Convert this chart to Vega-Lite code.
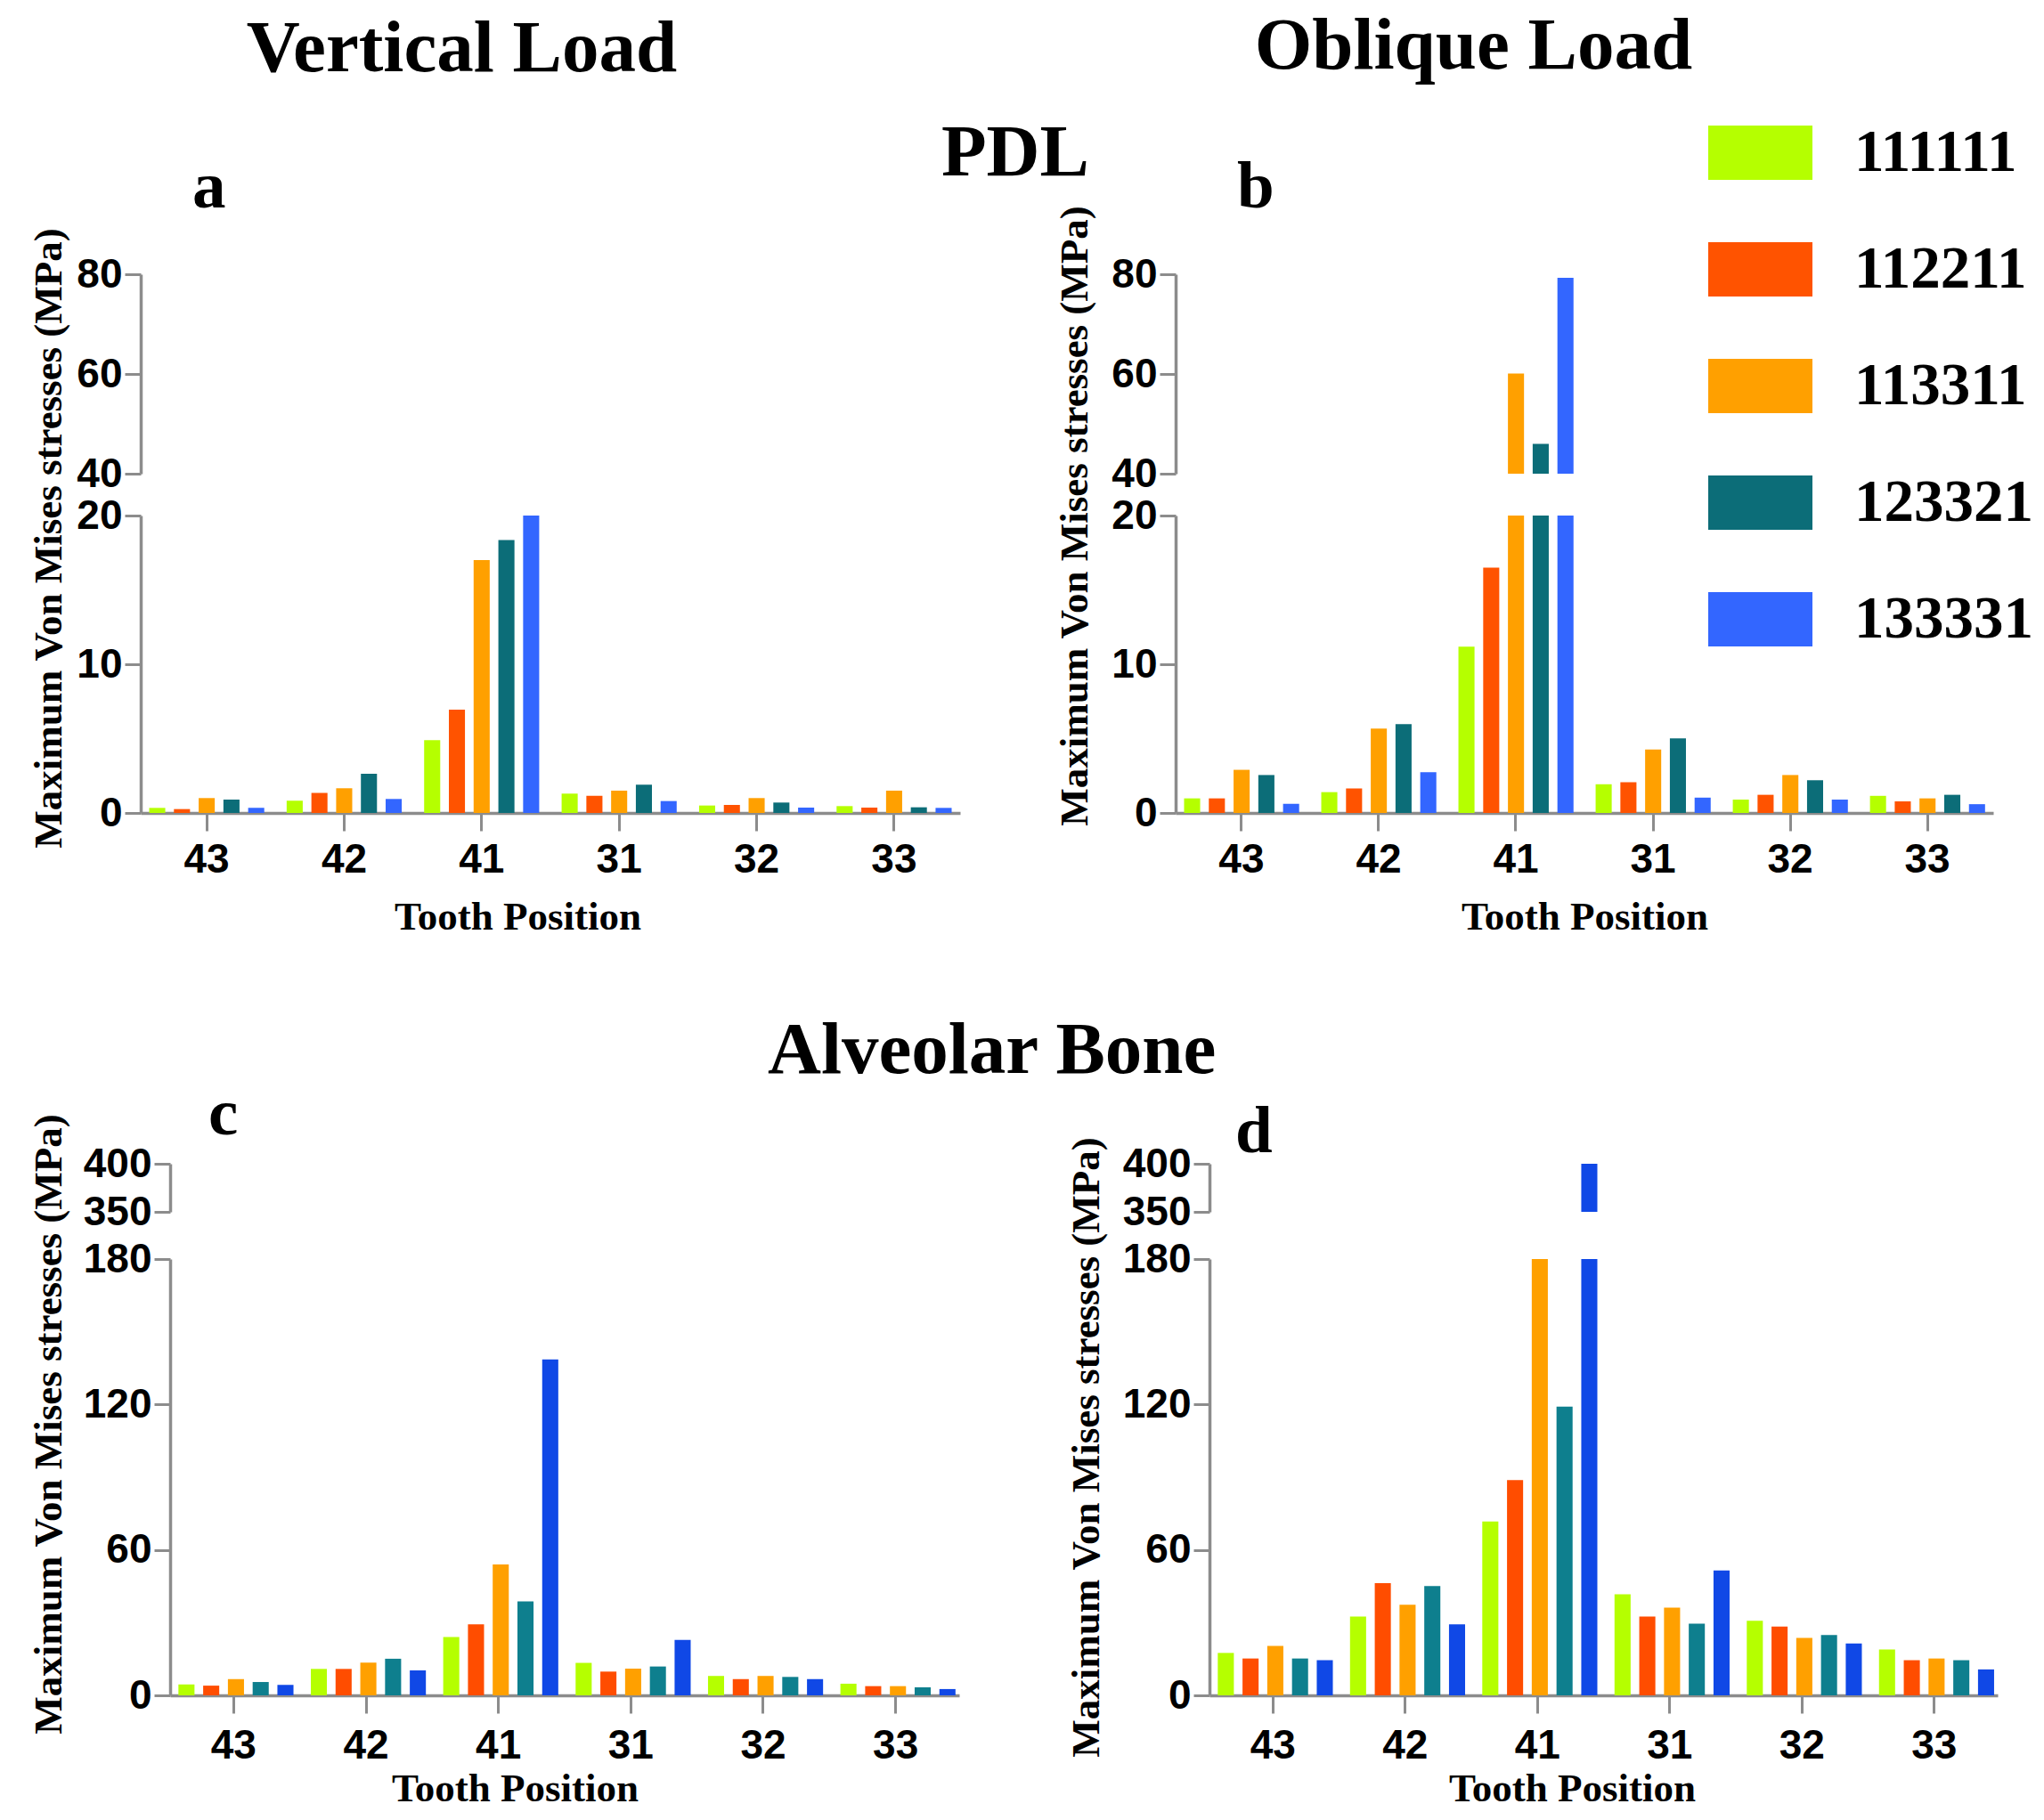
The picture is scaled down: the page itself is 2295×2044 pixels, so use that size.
{
  "$schema": "https://vega.github.io/schema/vega-lite/v6.json",
  "padding": {"left": 32, "top": 11, "right": 5, "bottom": 5},
  "background": "white",
  "datasets": {
    "stress": [
      {"p":"a","t":"43","c":"111111","v":0.34},{"p":"a","t":"43","c":"112211","v":0.26},{"p":"a","t":"43","c":"113311","v":1.0},{"p":"a","t":"43","c":"123321","v":0.9},{"p":"a","t":"43","c":"133331","v":0.34},
      {"p":"a","t":"42","c":"111111","v":0.82},{"p":"a","t":"42","c":"112211","v":1.34},{"p":"a","t":"42","c":"113311","v":1.66},{"p":"a","t":"42","c":"123321","v":2.64},{"p":"a","t":"42","c":"133331","v":0.94},
      {"p":"a","t":"41","c":"111111","v":4.9},{"p":"a","t":"41","c":"112211","v":6.94},{"p":"a","t":"41","c":"113311","v":17.0},{"p":"a","t":"41","c":"123321","v":18.36},{"p":"a","t":"41","c":"133331","v":20},
      {"p":"a","t":"31","c":"111111","v":1.3},{"p":"a","t":"31","c":"112211","v":1.16},{"p":"a","t":"31","c":"113311","v":1.5},{"p":"a","t":"31","c":"123321","v":1.9},{"p":"a","t":"31","c":"133331","v":0.8},
      {"p":"a","t":"32","c":"111111","v":0.5},{"p":"a","t":"32","c":"112211","v":0.54},{"p":"a","t":"32","c":"113311","v":1.0},{"p":"a","t":"32","c":"123321","v":0.7},{"p":"a","t":"32","c":"133331","v":0.36},
      {"p":"a","t":"33","c":"111111","v":0.46},{"p":"a","t":"33","c":"112211","v":0.36},{"p":"a","t":"33","c":"113311","v":1.5},{"p":"a","t":"33","c":"123321","v":0.38},{"p":"a","t":"33","c":"133331","v":0.34},
      {"p":"b","t":"43","c":"111111","v":0.98},{"p":"b","t":"43","c":"112211","v":0.98},{"p":"b","t":"43","c":"113311","v":2.9},{"p":"b","t":"43","c":"123321","v":2.55},{"p":"b","t":"43","c":"133331","v":0.61},
      {"p":"b","t":"42","c":"111111","v":1.4},{"p":"b","t":"42","c":"112211","v":1.64},{"p":"b","t":"42","c":"113311","v":5.68},{"p":"b","t":"42","c":"123321","v":5.97},{"p":"b","t":"42","c":"133331","v":2.74},
      {"p":"b","t":"41","c":"111111","v":11.19},{"p":"b","t":"41","c":"112211","v":16.5},{"p":"b","t":"41","c":"113311","v":60.1},{"p":"b","t":"41","c":"123321","v":46.0},{"p":"b","t":"41","c":"133331","v":79.3},
      {"p":"b","t":"31","c":"111111","v":1.93},{"p":"b","t":"31","c":"112211","v":2.06},{"p":"b","t":"31","c":"113311","v":4.26},{"p":"b","t":"31","c":"123321","v":5.02},{"p":"b","t":"31","c":"133331","v":1.03},
      {"p":"b","t":"32","c":"111111","v":0.9},{"p":"b","t":"32","c":"112211","v":1.22},{"p":"b","t":"32","c":"113311","v":2.55},{"p":"b","t":"32","c":"123321","v":2.2},{"p":"b","t":"32","c":"133331","v":0.9},
      {"p":"b","t":"33","c":"111111","v":1.15},{"p":"b","t":"33","c":"112211","v":0.78},{"p":"b","t":"33","c":"113311","v":0.98},{"p":"b","t":"33","c":"123321","v":1.22},{"p":"b","t":"33","c":"133331","v":0.59},
      {"p":"c","t":"43","c":"111111","v":4.5},{"p":"c","t":"43","c":"112211","v":4.0},{"p":"c","t":"43","c":"113311","v":6.7},{"p":"c","t":"43","c":"123321","v":5.5},{"p":"c","t":"43","c":"133331","v":4.3},
      {"p":"c","t":"42","c":"111111","v":10.9},{"p":"c","t":"42","c":"112211","v":10.9},{"p":"c","t":"42","c":"113311","v":13.5},{"p":"c","t":"42","c":"123321","v":15.1},{"p":"c","t":"42","c":"133331","v":10.3},
      {"p":"c","t":"41","c":"111111","v":24.1},{"p":"c","t":"41","c":"112211","v":29.3},{"p":"c","t":"41","c":"113311","v":54.0},{"p":"c","t":"41","c":"123321","v":38.8},{"p":"c","t":"41","c":"133331","v":138.6},
      {"p":"c","t":"31","c":"111111","v":13.4},{"p":"c","t":"31","c":"112211","v":9.8},{"p":"c","t":"31","c":"113311","v":11.0},{"p":"c","t":"31","c":"123321","v":11.9},{"p":"c","t":"31","c":"133331","v":22.9},
      {"p":"c","t":"32","c":"111111","v":8.0},{"p":"c","t":"32","c":"112211","v":6.7},{"p":"c","t":"32","c":"113311","v":8.0},{"p":"c","t":"32","c":"123321","v":7.6},{"p":"c","t":"32","c":"133331","v":6.7},
      {"p":"c","t":"33","c":"111111","v":4.8},{"p":"c","t":"33","c":"112211","v":3.8},{"p":"c","t":"33","c":"113311","v":3.8},{"p":"c","t":"33","c":"123321","v":3.3},{"p":"c","t":"33","c":"133331","v":2.6},
      {"p":"d","t":"43","c":"111111","v":17.5},{"p":"d","t":"43","c":"112211","v":15.2},{"p":"d","t":"43","c":"113311","v":20.4},{"p":"d","t":"43","c":"123321","v":15.2},{"p":"d","t":"43","c":"133331","v":14.5},
      {"p":"d","t":"42","c":"111111","v":32.5},{"p":"d","t":"42","c":"112211","v":46.3},{"p":"d","t":"42","c":"113311","v":37.4},{"p":"d","t":"42","c":"123321","v":45.1},{"p":"d","t":"42","c":"133331","v":29.3},
      {"p":"d","t":"41","c":"111111","v":71.7},{"p":"d","t":"41","c":"112211","v":88.8},{"p":"d","t":"41","c":"113311","v":180},{"p":"d","t":"41","c":"123321","v":119.1},{"p":"d","t":"41","c":"133331","v":400},
      {"p":"d","t":"31","c":"111111","v":41.7},{"p":"d","t":"31","c":"112211","v":32.5},{"p":"d","t":"31","c":"113311","v":36.2},{"p":"d","t":"31","c":"123321","v":29.6},{"p":"d","t":"31","c":"133331","v":51.5},
      {"p":"d","t":"32","c":"111111","v":30.8},{"p":"d","t":"32","c":"112211","v":28.4},{"p":"d","t":"32","c":"113311","v":23.7},{"p":"d","t":"32","c":"123321","v":24.9},{"p":"d","t":"32","c":"133331","v":21.4},
      {"p":"d","t":"33","c":"111111","v":18.9},{"p":"d","t":"33","c":"112211","v":14.5},{"p":"d","t":"33","c":"113311","v":15.2},{"p":"d","t":"33","c":"123321","v":14.5},{"p":"d","t":"33","c":"133331","v":10.7}
    ]
  },
  "resolve": {"scale": {"color": "independent"}, "legend": {"color": "independent"}},
  "columns": 1,
  "align": "none",
  "spacing": 87,
  "concat": [
    {
      "title": {"text": "PDL", "anchor": "middle", "dx": -18, "dy": 269, "baseline": "alphabetic", "offset": 0},
      "spacing": 106,
      "hconcat": [
        {
          "title": {"text": "Vertical Load", "anchor": "middle", "dx": -37, "baseline": "alphabetic", "offset": 10},
          "bounds": "flush",
          "spacing": 47,
          "vconcat": [
            {
              "width": 920, "height": 224,
              "title": {"text": "a", "anchor": "start", "frame": "group", "dx": 58, "fontSize": 75, "baseline": "alphabetic", "offset": -23},
              "data": {"name": "stress"},
              "transform": [{"filter": "datum.p == 'a'"}],
              "mark": {"type": "bar", "clip": true},
              "encoding": {
                "x": {"field": "t", "type": "nominal", "sort": ["43","42","41","31","32","33"], "scale": {"paddingInner": 0.1, "paddingOuter": 0.03}, "axis": null},
                "xOffset": {"field": "c", "type": "nominal", "sort": ["111111","112211","113311","123321","133331"], "scale": {"paddingInner": 0.35, "paddingOuter": 0.175}},
                "y": {"field": "v", "type": "quantitative", "scale": {"domain": [40, 80], "nice": false}, "axis": {"values": [40, 60, 80], "title": null}},
                "color": {"field": "c", "type": "nominal", "sort": ["111111","112211","113311","123321","133331"], "scale": {"range": ["#B5FF00","#FF5300","#FFA000","#0C6D78","#3366FF"]},
                  "legend": {"orient": "none", "legendX": 1760, "legendY": -195, "title": null, "padding": 0, "symbolType": "M-1,-0.5214H1V0.5214H-1Z", "symbolSize": 13689, "symbolStrokeWidth": 0, "symbolOpacity": 1, "labelFont": "Liberation Serif", "labelFontWeight": "bold", "labelFontSize": 67, "labelColor": "#000", "labelOffset": 47, "labelLimit": 400, "rowPadding": 39}}
              }
            },
            {
              "width": 920, "height": 334,
              "data": {"name": "stress"},
              "transform": [{"filter": "datum.p == 'a'"}],
              "mark": {"type": "bar", "clip": true},
              "encoding": {
                "x": {"field": "t", "type": "nominal", "sort": ["43","42","41","31","32","33"], "scale": {"paddingInner": 0.1, "paddingOuter": 0.03}, "axis": {"title": "Tooth Position", "titleX": 423, "titlePadding": 19, "labelPadding": 10}},
                "xOffset": {"field": "c", "type": "nominal", "sort": ["111111","112211","113311","123321","133331"], "scale": {"paddingInner": 0.35, "paddingOuter": 0.175}},
                "y": {"field": "v", "type": "quantitative", "scale": {"domain": [0, 20], "nice": false}, "axis": {"values": [0, 10, 20], "title": "Maximum Von Mises stresses (MPa)", "titleY": 25, "titlePadding": 8}},
                "color": {"field": "c", "type": "nominal", "sort": ["111111","112211","113311","123321","133331"], "scale": {"range": ["#B5FF00","#FF5300","#FFA000","#0C6D78","#3366FF"]},
                  "legend": {"orient": "none", "legendX": 1760, "legendY": -195, "title": null, "padding": 0, "symbolType": "M-1,-0.5214H1V0.5214H-1Z", "symbolSize": 13689, "symbolStrokeWidth": 0, "symbolOpacity": 1, "labelFont": "Liberation Serif", "labelFontWeight": "bold", "labelFontSize": 67, "labelColor": "#000", "labelOffset": 47, "labelLimit": 400, "rowPadding": 39}}
              }
            }
          ]
        },
        {
          "title": {"text": "Oblique Load", "anchor": "middle", "dx": -57, "dy": -3, "baseline": "alphabetic", "offset": 10},
          "bounds": "flush",
          "spacing": 47,
          "vconcat": [
            {
              "width": 918, "height": 224,
              "title": {"text": "b", "anchor": "start", "frame": "group", "dx": 69, "fontSize": 75, "baseline": "alphabetic", "offset": -23},
              "data": {"name": "stress"},
              "transform": [{"filter": "datum.p == 'b'"}],
              "mark": {"type": "bar", "clip": true},
              "encoding": {
                "x": {"field": "t", "type": "nominal", "sort": ["43","42","41","31","32","33"], "scale": {"paddingInner": 0.1, "paddingOuter": 0.03}, "axis": null},
                "xOffset": {"field": "c", "type": "nominal", "sort": ["111111","112211","113311","123321","133331"], "scale": {"paddingInner": 0.35, "paddingOuter": 0.175}},
                "y": {"field": "v", "type": "quantitative", "scale": {"domain": [40, 80], "nice": false}, "axis": {"values": [40, 60, 80], "title": null}},
                "color": {"field": "c", "type": "nominal", "sort": ["111111","112211","113311","123321","133331"], "scale": {"range": ["#B5FF00","#FF5300","#FFA000","#0C6D78","#3366FF"]},
                  "legend": {"orient": "none", "legendX": 1760, "legendY": -195, "title": null, "padding": 0, "symbolType": "M-1,-0.5214H1V0.5214H-1Z", "symbolSize": 13689, "symbolStrokeWidth": 0, "symbolOpacity": 1, "labelFont": "Liberation Serif", "labelFontWeight": "bold", "labelFontSize": 67, "labelColor": "#000", "labelOffset": 47, "labelLimit": 400, "rowPadding": 39}}
              }
            },
            {
              "width": 918, "height": 334,
              "data": {"name": "stress"},
              "transform": [{"filter": "datum.p == 'b'"}],
              "mark": {"type": "bar", "clip": true},
              "encoding": {
                "x": {"field": "t", "type": "nominal", "sort": ["43","42","41","31","32","33"], "scale": {"paddingInner": 0.1, "paddingOuter": 0.03}, "axis": {"title": "Tooth Position", "titlePadding": 19, "labelPadding": 10}},
                "xOffset": {"field": "c", "type": "nominal", "sort": ["111111","112211","113311","123321","133331"], "scale": {"paddingInner": 0.35, "paddingOuter": 0.175}},
                "y": {"field": "v", "type": "quantitative", "scale": {"domain": [0, 20], "nice": false}, "axis": {"values": [0, 10, 20], "title": "Maximum Von Mises stresses (MPa)", "titleY": 0, "titlePadding": 18}},
                "color": {"field": "c", "type": "nominal", "sort": ["111111","112211","113311","123321","133331"], "scale": {"range": ["#B5FF00","#FF5300","#FFA000","#0C6D78","#3366FF"]},
                  "legend": {"orient": "none", "legendX": 1760, "legendY": -195, "title": null, "padding": 0, "symbolType": "M-1,-0.5214H1V0.5214H-1Z", "symbolSize": 13689, "symbolStrokeWidth": 0, "symbolOpacity": 1, "labelFont": "Liberation Serif", "labelFontWeight": "bold", "labelFontSize": 67, "labelColor": "#000", "labelOffset": 47, "labelLimit": 400, "rowPadding": 39}}
              }
            }
          ]
        }
      ]
    },
    {
      "title": {"text": "Alveolar Bone", "anchor": "middle", "dx": -24, "baseline": "alphabetic", "offset": -74},
      "spacing": -127,
      "hconcat": [
        {
          "width": 1, "height": 1,
          "data": {"values": []},
          "mark": "point",
          "encoding": {}
        },
        {
          "spacing": 120,
          "hconcat": [
            {
              "bounds": "flush",
              "spacing": 53,
              "vconcat": [
                {
                  "width": 886, "height": 54,
                  "title": {"text": "c", "anchor": "start", "frame": "group", "dx": 43, "fontSize": 75, "baseline": "alphabetic", "offset": -65},
                  "data": {"name": "stress"},
                  "transform": [{"filter": "datum.p == 'c'"}],
                  "mark": {"type": "bar", "clip": true},
                  "encoding": {
                    "x": {"field": "t", "type": "nominal", "sort": ["43","42","41","31","32","33"], "scale": {"paddingInner": 0.1, "paddingOuter": 0.03}, "axis": null},
                    "xOffset": {"field": "c", "type": "nominal", "sort": ["111111","112211","113311","123321","133331"], "scale": {"paddingInner": 0.33, "paddingOuter": 0.165}},
                    "y": {"field": "v", "type": "quantitative", "scale": {"domain": [350, 400], "nice": false}, "axis": {"values": [350, 400], "title": null}},
                    "color": {"field": "c", "type": "nominal", "sort": ["111111","112211","113311","123321","133331"], "scale": {"range": ["#B5FF00","#FF4D00","#FFA000","#0E7F8E","#1048E6"]}, "legend": null}
                  }
                },
                {
                  "width": 886, "height": 490,
                  "data": {"name": "stress"},
                  "transform": [{"filter": "datum.p == 'c'"}],
                  "mark": {"type": "bar", "clip": true},
                  "encoding": {
                    "x": {"field": "t", "type": "nominal", "sort": ["43","42","41","31","32","33"], "scale": {"paddingInner": 0.1, "paddingOuter": 0.03}, "axis": {"title": "Tooth Position", "titleX": 387, "titlePadding": 3, "labelPadding": 14}},
                    "xOffset": {"field": "c", "type": "nominal", "sort": ["111111","112211","113311","123321","133331"], "scale": {"paddingInner": 0.33, "paddingOuter": 0.165}},
                    "y": {"field": "v", "type": "quantitative", "scale": {"domain": [0, 180], "nice": false}, "axis": {"values": [0, 60, 120, 180], "title": "Maximum Von Mises stresses (MPa)", "titleY": 185, "titlePadding": 16}},
                    "color": {"field": "c", "type": "nominal", "sort": ["111111","112211","113311","123321","133331"], "scale": {"range": ["#B5FF00","#FF4D00","#FFA000","#0E7F8E","#1048E6"]}, "legend": null}
                  }
                }
              ]
            },
            {
              "bounds": "flush",
              "spacing": 53,
              "vconcat": [
                {
                  "width": 885, "height": 54,
                  "title": {"text": "d", "anchor": "start", "frame": "group", "dx": 29, "fontSize": 75, "baseline": "alphabetic", "offset": -65, "dy": 20},
                  "data": {"name": "stress"},
                  "transform": [{"filter": "datum.p == 'd'"}],
                  "mark": {"type": "bar", "clip": true},
                  "encoding": {
                    "x": {"field": "t", "type": "nominal", "sort": ["43","42","41","31","32","33"], "scale": {"paddingInner": 0.1, "paddingOuter": 0.03}, "axis": null},
                    "xOffset": {"field": "c", "type": "nominal", "sort": ["111111","112211","113311","123321","133331"], "scale": {"paddingInner": 0.33, "paddingOuter": 0.165}},
                    "y": {"field": "v", "type": "quantitative", "scale": {"domain": [350, 400], "nice": false}, "axis": {"values": [350, 400], "title": null}},
                    "color": {"field": "c", "type": "nominal", "sort": ["111111","112211","113311","123321","133331"], "scale": {"range": ["#B5FF00","#FF4D00","#FFA000","#0E7F8E","#1048E6"]}, "legend": null}
                  }
                },
                {
                  "width": 885, "height": 490,
                  "data": {"name": "stress"},
                  "transform": [{"filter": "datum.p == 'd'"}],
                  "mark": {"type": "bar", "clip": true},
                  "encoding": {
                    "x": {"field": "t", "type": "nominal", "sort": ["43","42","41","31","32","33"], "scale": {"paddingInner": 0.1, "paddingOuter": 0.03}, "axis": {"title": "Tooth Position", "titleX": 407, "titlePadding": 3, "labelPadding": 14}},
                    "xOffset": {"field": "c", "type": "nominal", "sort": ["111111","112211","113311","123321","133331"], "scale": {"paddingInner": 0.33, "paddingOuter": 0.165}},
                    "y": {"field": "v", "type": "quantitative", "scale": {"domain": [0, 180], "nice": false}, "axis": {"values": [0, 60, 120, 180], "title": "Maximum Von Mises stresses (MPa)", "titleY": 211, "titlePadding": 18}},
                    "color": {"field": "c", "type": "nominal", "sort": ["111111","112211","113311","123321","133331"], "scale": {"range": ["#B5FF00","#FF4D00","#FFA000","#0E7F8E","#1048E6"]}, "legend": null}
                  }
                }
              ]
            }
          ]
        }
      ]
    }
  ],
  "config": {
    "view": {"stroke": null},
    "title": {"font": "Liberation Serif", "fontWeight": "bold", "fontSize": 83, "color": "#000"},
    "axis": {"domainColor": "#8c8c8c", "domainWidth": 3.5, "tickColor": "#8c8c8c", "tickWidth": 3, "labelFont": "Liberation Sans", "labelFontWeight": "bold", "labelFontSize": 46, "labelColor": "#000", "titleFont": "Liberation Serif", "titleFontWeight": "bold", "titleFontSize": 45, "titleColor": "#000", "grid": false},
    "axisY": {"tickSize": 18, "labelPadding": 3},
    "axisX": {"tickSize": 20, "labelPadding": 6, "labelAngle": 0}
  }
}
